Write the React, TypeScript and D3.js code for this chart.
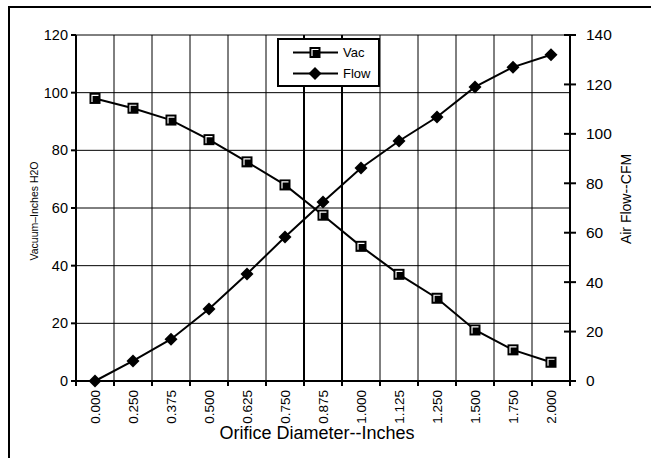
import React from "react";
import * as d3 from "d3";

const categories = ["0.000", "0.250", "0.375", "0.500", "0.625", "0.750", "0.875", "1.000", "1.125", "1.250", "1.500", "1.750", "2.000"];
const vacValues = [98.0, 94.6, 90.5, 83.7, 76.0, 68.0, 57.5, 46.7, 37.0, 28.7, 17.7, 10.8, 6.5];
const flowValues = [0, 8.1, 16.9, 29.1, 43.3, 58.3, 72.4, 86.2, 97.1, 106.8, 119, 127, 132];
const leftTicks = [0, 20, 40, 60, 80, 100, 120];
const rightTicks = [0, 20, 40, 60, 80, 100, 120, 140];

const W = 651, H = 458;
const L = 76, R = 570, T = 35, B = 381;
const FONT = "'Liberation Sans', Arial, sans-serif";

export default function App() {
  const x = d3.scaleBand<string>().domain(categories).range([L, R]).padding(0);
  const yL = d3.scaleLinear().domain([0, 120]).range([B, T]);
  const yR = d3.scaleLinear().domain([0, 140]).range([B, T]);
  const cx = (c: string) => (x(c) as number) + x.bandwidth() / 2;

  const vacLine = d3.line<number>().x((_, i) => cx(categories[i])).y((d) => yL(d));
  const flowLine = d3.line<number>().x((_, i) => cx(categories[i])).y((d) => yR(d));

  const boundaries = d3.range(categories.length + 1).map((k) => L + k * x.bandwidth());

  const square = (px: number, py: number, key: any) => (
    <g key={key}>
      <rect x={px - 5.5} y={py - 5.5} width={11} height={11} fill="#000" />
      <path d={`M${px - 3},${py + 3.5}L${px - 3},${py - 3}L${px + 3.5},${py - 3}`} fill="none" stroke="#fff" strokeWidth={1.2} />
    </g>
  );
  const diamond = (px: number, py: number, key: any) => (
    <path key={key} d={`M${px},${py - 6.5}L${px + 6.5},${py}L${px},${py + 6.5}L${px - 6.5},${py}Z`} fill="#000" />
  );

  return (
    <svg width={W} height={H} style={{ position: "absolute", left: 0, top: 0, display: "block" }} fontFamily={FONT}>
      <rect x={0} y={0} width={W} height={H} fill="#fff" />
      {/* outer frame */}
      <line x1={8} y1={7} x2={W} y2={7} stroke="#000" strokeWidth={2} />
      <line x1={9} y1={6} x2={9} y2={H} stroke="#000" strokeWidth={2} />

      {/* horizontal gridlines */}
      {leftTicks.filter((t) => t > 0).map((t) => (
        <line key={"hg" + t} x1={L} x2={R} y1={yL(t)} y2={yL(t)} stroke="#000" strokeWidth={1} />
      ))}
      {/* vertical gridlines */}
      {boundaries.slice(1, -1).map((bx, k) => (
        <line key={"vg" + k} x1={bx} x2={bx} y1={T} y2={B} stroke="#000" strokeWidth={k === 5 || k === 6 ? 2 : 1} />
      ))}

      {/* axes */}
      <line x1={L} x2={L} y1={T} y2={B + 1} stroke="#000" strokeWidth={2} />
      <line x1={R} x2={R} y1={T} y2={B + 1} stroke="#000" strokeWidth={2} />
      <line x1={L - 1} x2={R + 1} y1={B} y2={B} stroke="#000" strokeWidth={2} />

      {/* left ticks */}
      {leftTicks.map((t) => (
        <g key={"lt" + t}>
          <line x1={L - 5} x2={L} y1={yL(t)} y2={yL(t)} stroke="#000" strokeWidth={2} />
          <text x={L - 8} y={yL(t)} dy="0.35em" textAnchor="end" fontSize={14.5} fill="#000">{t}</text>
        </g>
      ))}
      {/* right ticks */}
      {rightTicks.map((t) => (
        <g key={"rt" + t}>
          <line x1={R - 6} x2={R + 6} y1={yR(t)} y2={yR(t)} stroke="#000" strokeWidth={2} />
          <text x={R + 16} y={yR(t)} dy="0.35em" textAnchor="start" fontSize={15.5} fill="#000">{t}</text>
        </g>
      ))}
      {/* bottom ticks */}
      {boundaries.map((bx, k) => (
        <line key={"bt" + k} x1={bx} x2={bx} y1={B} y2={B + 5} stroke="#000" strokeWidth={2} />
      ))}
      {categories.map((c) => (
        <text key={"xl" + c} transform={`translate(${cx(c) + 5},${B + 9}) rotate(-90)`} textAnchor="end" fontSize={13.5} fill="#000">{c}</text>
      ))}

      {/* series */}
      <path d={vacLine(vacValues) as string} fill="none" stroke="#000" strokeWidth={2} />
      <path d={flowLine(flowValues) as string} fill="none" stroke="#000" strokeWidth={2} />
      {vacValues.map((v, i) => square(cx(categories[i]), yL(v), "sq" + i))}
      {flowValues.map((v, i) => diamond(cx(categories[i]), yR(v), "dm" + i))}

      {/* axis titles */}
      <text x={317} y={439} textAnchor="middle" fontSize={18} fill="#000">Orifice Diameter--Inches</text>
      <text transform={`translate(38,211) rotate(-90)`} textAnchor="middle" fontSize={10.5} fill="#000">Vacuum–Inches H2O</text>
      <text transform={`translate(631,199) rotate(-90)`} textAnchor="middle" fontSize={14} fill="#000">Air Flow--CFM</text>

      {/* legend */}
      <rect x={278} y={39} width={101} height={47} fill="#fff" stroke="#000" strokeWidth={2} />
      <line x1={293} x2={338} y1={52.5} y2={52.5} stroke="#000" strokeWidth={2} />
      {square(315, 52.5, "lsq")}
      <text x={343} y={52.5} dy="0.35em" fontSize={13} fill="#000">Vac</text>
      <line x1={293} x2={338} y1={73.5} y2={73.5} stroke="#000" strokeWidth={2} />
      {diamond(315, 73.5, "ldm")}
      <text x={343} y={73.5} dy="0.35em" fontSize={13} fill="#000">Flow</text>
    </svg>
  );
}
